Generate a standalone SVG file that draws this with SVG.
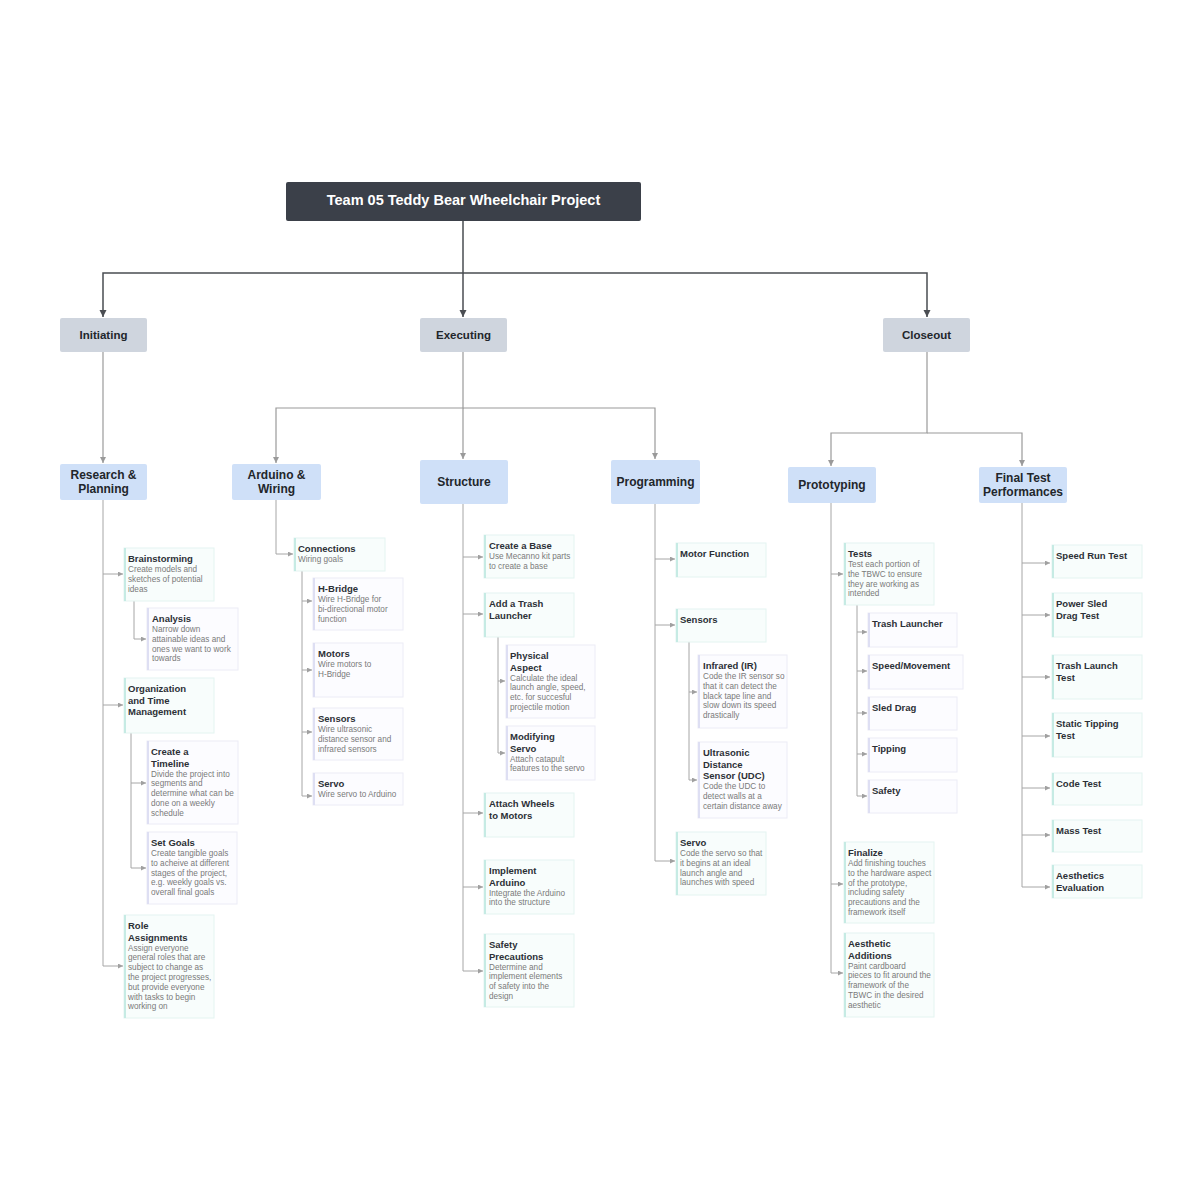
<svg xmlns="http://www.w3.org/2000/svg" width="1200" height="1200" viewBox="0 0 1200 1200">
<style>
text{font-family:"Liberation Sans",Arial,sans-serif}
.rt{font-size:14.5px;font-weight:bold;fill:#ffffff}
.l1{fill:#cfd5de;rx:2}
.l2{fill:#cfe0f8;rx:2}
.lt{font-size:11.5px;font-weight:bold;fill:#22262b}
.l2t{font-size:12px;font-weight:bold;fill:#22262b}
.cbT{fill:#f8fdfc;stroke:#e4f4f1;stroke-width:1}
.csT{fill:#c6ebe4}
.cbL{fill:#fcfcff;stroke:#ececf6;stroke-width:1}
.csL{fill:#dedff3}
.ct{font-size:9.5px;font-weight:bold;fill:#2c3036}
.cd{font-size:8.2px;fill:#7a7a7a}
.c0{fill:none;stroke:#4a4d52;stroke-width:1.5}
.c1{fill:none;stroke:#9a9a9a;stroke-width:1.2}
.c2{fill:none;stroke:#a6a6a6;stroke-width:1}
</style>
<defs>
<marker id="aBig" markerUnits="userSpaceOnUse" markerWidth="8" markerHeight="8" refX="7" refY="3.5" orient="auto"><path d="M0,0 L7,3.5 L0,7 z" fill="#4a4d52"/></marker>
<marker id="aMid" markerUnits="userSpaceOnUse" markerWidth="7" markerHeight="7" refX="6" refY="3" orient="auto"><path d="M0,0 L6,3 L0,6 z" fill="#9a9a9a"/></marker>
<marker id="aSm" markerUnits="userSpaceOnUse" markerWidth="6" markerHeight="6" refX="5" refY="2.5" orient="auto"><path d="M0,0 L5,2.5 L0,5 z" fill="#a0a0a0"/></marker>
</defs>
<rect width="1200" height="1200" fill="#ffffff"/>

<g id="connectors">
<path class="c0" d="M463,221 V273 H103 V317" marker-end="url(#aBig)"/>
<path class="c0" d="M463,273 V317" marker-end="url(#aBig)"/>
<path class="c0" d="M463,273 H927 V317" marker-end="url(#aBig)"/>

<path class="c1" d="M103,352 V463" marker-end="url(#aMid)"/>
<path class="c1" d="M463,352 V408 H276 V463" marker-end="url(#aMid)"/>
<path class="c1" d="M463,408 V459" marker-end="url(#aMid)"/>
<path class="c1" d="M463,408 H655 V459" marker-end="url(#aMid)"/>
<path class="c1" d="M927,352 V433 H831 V466" marker-end="url(#aMid)"/>
<path class="c1" d="M927,433 H1022 V466" marker-end="url(#aMid)"/>

<path class="c2" d="M103,500 V966"/>
<path class="c2" d="M103,574 H123" marker-end="url(#aSm)"/>
<path class="c2" d="M103,705 H123" marker-end="url(#aSm)"/>
<path class="c2" d="M103,966 H123" marker-end="url(#aSm)"/>
<path class="c2" d="M134,601 V639 H146" marker-end="url(#aSm)"/>
<path class="c2" d="M131,733 V868 H146" marker-end="url(#aSm)"/>
<path class="c2" d="M131,783 H146" marker-end="url(#aSm)"/>

<path class="c2" d="M276,500 V554 H293" marker-end="url(#aSm)"/>
<path class="c2" d="M302,571 V796 H312" marker-end="url(#aSm)"/>
<path class="c2" d="M302,601 H312" marker-end="url(#aSm)"/>
<path class="c2" d="M302,670 H312" marker-end="url(#aSm)"/>
<path class="c2" d="M302,732 H312" marker-end="url(#aSm)"/>

<path class="c2" d="M463,504 V971"/>
<path class="c2" d="M463,557 H483" marker-end="url(#aSm)"/>
<path class="c2" d="M463,614 H483" marker-end="url(#aSm)"/>
<path class="c2" d="M463,813 H483" marker-end="url(#aSm)"/>
<path class="c2" d="M463,887 H483" marker-end="url(#aSm)"/>
<path class="c2" d="M463,971 H483" marker-end="url(#aSm)"/>
<path class="c2" d="M498,637 V753 H505" marker-end="url(#aSm)"/>
<path class="c2" d="M498,681 H505" marker-end="url(#aSm)"/>

<path class="c2" d="M655,504 V861"/>
<path class="c2" d="M655,559 H675" marker-end="url(#aSm)"/>
<path class="c2" d="M655,625 H675" marker-end="url(#aSm)"/>
<path class="c2" d="M655,861 H675" marker-end="url(#aSm)"/>
<path class="c2" d="M689,642 V780 H697" marker-end="url(#aSm)"/>
<path class="c2" d="M689,692 H697" marker-end="url(#aSm)"/>

<path class="c2" d="M831,503 V973"/>
<path class="c2" d="M831,574 H843" marker-end="url(#aSm)"/>
<path class="c2" d="M831,884 H843" marker-end="url(#aSm)"/>
<path class="c2" d="M831,973 H843" marker-end="url(#aSm)"/>
<path class="c2" d="M857,605 V796 H867" marker-end="url(#aSm)"/>
<path class="c2" d="M857,632 H867" marker-end="url(#aSm)"/>
<path class="c2" d="M857,671 H867" marker-end="url(#aSm)"/>
<path class="c2" d="M857,713 H867" marker-end="url(#aSm)"/>
<path class="c2" d="M857,754 H867" marker-end="url(#aSm)"/>

<path class="c2" d="M1022,503 V887"/>
<path class="c2" d="M1022,563 H1050" marker-end="url(#aSm)"/>
<path class="c2" d="M1022,615 H1050" marker-end="url(#aSm)"/>
<path class="c2" d="M1022,677 H1050" marker-end="url(#aSm)"/>
<path class="c2" d="M1022,736 H1050" marker-end="url(#aSm)"/>
<path class="c2" d="M1022,788 H1050" marker-end="url(#aSm)"/>
<path class="c2" d="M1022,835 H1050" marker-end="url(#aSm)"/>
<path class="c2" d="M1022,887 H1050" marker-end="url(#aSm)"/>
</g>

<g id="root">
<rect x="286" y="182" width="355" height="39" rx="2" fill="#3b4049"/>
<text class="rt" x="463.5" y="205" text-anchor="middle">Team 05 Teddy Bear Wheelchair Project</text>
</g>

<g id="n-initiating"><rect class="l1" x="60" y="318" width="87" height="34"/><text class="lt" x="103.5" y="339" text-anchor="middle">Initiating</text></g>
<g id="n-executing"><rect class="l1" x="420" y="318" width="87" height="34"/><text class="lt" x="463.5" y="339" text-anchor="middle">Executing</text></g>
<g id="n-closeout"><rect class="l1" x="883" y="318" width="87" height="34"/><text class="lt" x="926.5" y="339" text-anchor="middle">Closeout</text></g>

<g id="n-research"><rect class="l2" x="60" y="464" width="87" height="36"/><text class="l2t" text-anchor="middle"><tspan x="103.5" y="479">Research &amp;</tspan><tspan x="103.5" y="493">Planning</tspan></text></g>
<g id="n-arduino"><rect class="l2" x="232" y="464" width="89" height="36"/><text class="l2t" text-anchor="middle"><tspan x="276.5" y="479">Arduino &amp;</tspan><tspan x="276.5" y="493">Wiring</tspan></text></g>
<g id="n-structure"><rect class="l2" x="420" y="460" width="88" height="44"/><text class="l2t" x="464" y="486" text-anchor="middle">Structure</text></g>
<g id="n-programming"><rect class="l2" x="611" y="460" width="89" height="44"/><text class="l2t" x="655.5" y="486" text-anchor="middle">Programming</text></g>
<g id="n-prototyping"><rect class="l2" x="788" y="467" width="88" height="36"/><text class="l2t" x="832" y="489" text-anchor="middle">Prototyping</text></g>
<g id="n-finaltest"><rect class="l2" x="979" y="467" width="88" height="36"/><text class="l2t" text-anchor="middle"><tspan x="1023" y="482">Final Test</tspan><tspan x="1023" y="496">Performances</tspan></text></g>

<!-- Research & Planning -->
<g id="n-brainstorming"><rect class="cbT" x="124" y="548" width="90" height="53"/><rect class="csT" x="124" y="548" width="2" height="53"/>
<text class="ct"><tspan x="128" y="562">Brainstorming</tspan></text>
<text class="cd"><tspan x="128" y="572">Create models and</tspan><tspan x="128" y="581.8">sketches of potential</tspan><tspan x="128" y="591.6">ideas</tspan></text></g>
<g id="n-analysis"><rect class="cbL" x="147" y="608" width="91" height="62"/><rect class="csL" x="147" y="608" width="2" height="62"/>
<text class="ct"><tspan x="152" y="622">Analysis</tspan></text>
<text class="cd"><tspan x="152" y="632">Narrow down</tspan><tspan x="152" y="641.8">attainable ideas and</tspan><tspan x="152" y="651.6">ones we want to work</tspan><tspan x="152" y="661.4">towards</tspan></text></g>
<g id="n-org"><rect class="cbT" x="124" y="678" width="90" height="55"/><rect class="csT" x="124" y="678" width="2" height="55"/>
<text class="ct"><tspan x="128" y="692">Organization</tspan><tspan x="128" y="703.5">and Time</tspan><tspan x="128" y="715">Management</tspan></text></g>
<g id="n-timeline"><rect class="cbL" x="147" y="741" width="91" height="83"/><rect class="csL" x="147" y="741" width="2" height="83"/>
<text class="ct"><tspan x="151" y="755">Create a</tspan><tspan x="151" y="766.5">Timeline</tspan></text>
<text class="cd"><tspan x="151" y="776.5">Divide the project into</tspan><tspan x="151" y="786.3">segments and</tspan><tspan x="151" y="796.1">determine what can be</tspan><tspan x="151" y="805.9">done on a weekly</tspan><tspan x="151" y="815.7">schedule</tspan></text></g>
<g id="n-setgoals"><rect class="cbL" x="147" y="832" width="90" height="72"/><rect class="csL" x="147" y="832" width="2" height="72"/>
<text class="ct"><tspan x="151" y="846">Set Goals</tspan></text>
<text class="cd"><tspan x="151" y="856">Create tangible goals</tspan><tspan x="151" y="865.8">to acheive at different</tspan><tspan x="151" y="875.6">stages of the project,</tspan><tspan x="151" y="885.4">e.g. weekly goals vs.</tspan><tspan x="151" y="895.2">overall final goals</tspan></text></g>
<g id="n-roles"><rect class="cbT" x="124" y="915" width="90" height="103"/><rect class="csT" x="124" y="915" width="2" height="103"/>
<text class="ct"><tspan x="128" y="929">Role</tspan><tspan x="128" y="940.5">Assignments</tspan></text>
<text class="cd"><tspan x="128" y="950.5">Assign everyone</tspan><tspan x="128" y="960.3">general roles that are</tspan><tspan x="128" y="970.1">subject to change as</tspan><tspan x="128" y="979.9">the project progresses,</tspan><tspan x="128" y="989.7">but provide everyone</tspan><tspan x="128" y="999.5">with tasks to begin</tspan><tspan x="128" y="1009.3">working on</tspan></text></g>

<!-- Arduino & Wiring -->
<g id="n-connections"><rect class="cbT" x="294" y="538" width="91" height="33"/><rect class="csT" x="294" y="538" width="2" height="33"/>
<text class="ct"><tspan x="298" y="552">Connections</tspan></text>
<text class="cd"><tspan x="298" y="562">Wiring goals</tspan></text></g>
<g id="n-hbridge"><rect class="cbL" x="313" y="578" width="90" height="52"/><rect class="csL" x="313" y="578" width="2" height="52"/>
<text class="ct"><tspan x="318" y="592">H-Bridge</tspan></text>
<text class="cd"><tspan x="318" y="602">Wire H-Bridge for</tspan><tspan x="318" y="611.8">bi-directional motor</tspan><tspan x="318" y="621.6">function</tspan></text></g>
<g id="n-motors"><rect class="cbL" x="313" y="643" width="90" height="54"/><rect class="csL" x="313" y="643" width="2" height="54"/>
<text class="ct"><tspan x="318" y="657">Motors</tspan></text>
<text class="cd"><tspan x="318" y="667">Wire motors to</tspan><tspan x="318" y="676.8">H-Bridge</tspan></text></g>
<g id="n-wsensors"><rect class="cbL" x="313" y="708" width="90" height="52"/><rect class="csL" x="313" y="708" width="2" height="52"/>
<text class="ct"><tspan x="318" y="722">Sensors</tspan></text>
<text class="cd"><tspan x="318" y="732">Wire ultrasonic</tspan><tspan x="318" y="741.8">distance sensor and</tspan><tspan x="318" y="751.6">infrared sensors</tspan></text></g>
<g id="n-wservo"><rect class="cbL" x="313" y="773" width="90" height="32"/><rect class="csL" x="313" y="773" width="2" height="32"/>
<text class="ct"><tspan x="318" y="787">Servo</tspan></text>
<text class="cd"><tspan x="318" y="797">Wire servo to Arduino</tspan></text></g>

<!-- Structure -->
<g id="n-base"><rect class="cbT" x="484" y="535" width="90" height="43"/><rect class="csT" x="484" y="535" width="2" height="43"/>
<text class="ct"><tspan x="489" y="549">Create a Base</tspan></text>
<text class="cd"><tspan x="489" y="559">Use Mecanno kit parts</tspan><tspan x="489" y="568.8">to create a base</tspan></text></g>
<g id="n-trash"><rect class="cbT" x="484" y="593" width="90" height="44"/><rect class="csT" x="484" y="593" width="2" height="44"/>
<text class="ct"><tspan x="489" y="607">Add a Trash</tspan><tspan x="489" y="618.5">Launcher</tspan></text></g>
<g id="n-physical"><rect class="cbL" x="506" y="645" width="89" height="73"/><rect class="csL" x="506" y="645" width="2" height="73"/>
<text class="ct"><tspan x="510" y="659">Physical</tspan><tspan x="510" y="670.5">Aspect</tspan></text>
<text class="cd"><tspan x="510" y="680.5">Calculate the ideal</tspan><tspan x="510" y="690.3">launch angle, speed,</tspan><tspan x="510" y="700.1">etc. for succesful</tspan><tspan x="510" y="709.9">projectile motion</tspan></text></g>
<g id="n-modservo"><rect class="cbL" x="506" y="726" width="89" height="54"/><rect class="csL" x="506" y="726" width="2" height="54"/>
<text class="ct"><tspan x="510" y="740">Modifying</tspan><tspan x="510" y="751.5">Servo</tspan></text>
<text class="cd"><tspan x="510" y="761.5">Attach catapult</tspan><tspan x="510" y="771.3">features to the servo</tspan></text></g>
<g id="n-wheels"><rect class="cbT" x="484" y="793" width="90" height="44"/><rect class="csT" x="484" y="793" width="2" height="44"/>
<text class="ct"><tspan x="489" y="807">Attach Wheels</tspan><tspan x="489" y="818.5">to Motors</tspan></text></g>
<g id="n-implement"><rect class="cbT" x="484" y="860" width="90" height="54"/><rect class="csT" x="484" y="860" width="2" height="54"/>
<text class="ct"><tspan x="489" y="874">Implement</tspan><tspan x="489" y="885.5">Arduino</tspan></text>
<text class="cd"><tspan x="489" y="895.5">Integrate the Arduino</tspan><tspan x="489" y="905.3">into the structure</tspan></text></g>
<g id="n-safetyprec"><rect class="cbT" x="484" y="934" width="90" height="73"/><rect class="csT" x="484" y="934" width="2" height="73"/>
<text class="ct"><tspan x="489" y="948">Safety</tspan><tspan x="489" y="959.5">Precautions</tspan></text>
<text class="cd"><tspan x="489" y="969.5">Determine and</tspan><tspan x="489" y="979.3">implement elements</tspan><tspan x="489" y="989.1">of safety into the</tspan><tspan x="489" y="998.9">design</tspan></text></g>

<!-- Programming -->
<g id="n-motorfn"><rect class="cbT" x="676" y="543" width="90" height="34"/><rect class="csT" x="676" y="543" width="2" height="34"/>
<text class="ct"><tspan x="680" y="557">Motor Function</tspan></text></g>
<g id="n-psensors"><rect class="cbT" x="676" y="609" width="90" height="33"/><rect class="csT" x="676" y="609" width="2" height="33"/>
<text class="ct"><tspan x="680" y="623">Sensors</tspan></text></g>
<g id="n-infrared"><rect class="cbL" x="698" y="655" width="89" height="73"/><rect class="csL" x="698" y="655" width="2" height="73"/>
<text class="ct"><tspan x="703" y="669">Infrared (IR)</tspan></text>
<text class="cd"><tspan x="703" y="679">Code the IR sensor so</tspan><tspan x="703" y="688.8">that it can detect the</tspan><tspan x="703" y="698.6">black tape line and</tspan><tspan x="703" y="708.4">slow down its speed</tspan><tspan x="703" y="718.2">drastically</tspan></text></g>
<g id="n-ultrasonic"><rect class="cbL" x="698" y="742" width="89" height="76"/><rect class="csL" x="698" y="742" width="2" height="76"/>
<text class="ct"><tspan x="703" y="756">Ultrasonic</tspan><tspan x="703" y="767.5">Distance</tspan><tspan x="703" y="779">Sensor (UDC)</tspan></text>
<text class="cd"><tspan x="703" y="789">Code the UDC to</tspan><tspan x="703" y="798.8">detect walls at a</tspan><tspan x="703" y="808.6">certain distance away</tspan></text></g>
<g id="n-pservo"><rect class="cbT" x="676" y="832" width="90" height="63"/><rect class="csT" x="676" y="832" width="2" height="63"/>
<text class="ct"><tspan x="680" y="846">Servo</tspan></text>
<text class="cd"><tspan x="680" y="856">Code the servo so that</tspan><tspan x="680" y="865.8">it begins at an ideal</tspan><tspan x="680" y="875.6">launch angle and</tspan><tspan x="680" y="885.4">launches with speed</tspan></text></g>

<!-- Prototyping -->
<g id="n-tests"><rect class="cbT" x="844" y="543" width="90" height="62"/><rect class="csT" x="844" y="543" width="2" height="62"/>
<text class="ct"><tspan x="848" y="557">Tests</tspan></text>
<text class="cd"><tspan x="848" y="567">Test each portion of</tspan><tspan x="848" y="576.8">the TBWC to ensure</tspan><tspan x="848" y="586.6">they are working as</tspan><tspan x="848" y="596.4">intended</tspan></text></g>
<g id="n-ttrash"><rect class="cbL" x="868" y="613" width="89" height="34"/><rect class="csL" x="868" y="613" width="2" height="34"/>
<text class="ct"><tspan x="872" y="627">Trash Launcher</tspan></text></g>
<g id="n-tspeed"><rect class="cbL" x="868" y="655" width="95" height="34"/><rect class="csL" x="868" y="655" width="2" height="34"/>
<text class="ct"><tspan x="872" y="669">Speed/Movement</tspan></text></g>
<g id="n-tsled"><rect class="cbL" x="868" y="697" width="89" height="33"/><rect class="csL" x="868" y="697" width="2" height="33"/>
<text class="ct"><tspan x="872" y="711">Sled Drag</tspan></text></g>
<g id="n-ttipping"><rect class="cbL" x="868" y="738" width="89" height="34"/><rect class="csL" x="868" y="738" width="2" height="34"/>
<text class="ct"><tspan x="872" y="752">Tipping</tspan></text></g>
<g id="n-tsafety"><rect class="cbL" x="868" y="780" width="89" height="33"/><rect class="csL" x="868" y="780" width="2" height="33"/>
<text class="ct"><tspan x="872" y="794">Safety</tspan></text></g>
<g id="n-finalize"><rect class="cbT" x="844" y="842" width="90" height="81"/><rect class="csT" x="844" y="842" width="2" height="81"/>
<text class="ct"><tspan x="848" y="856">Finalize</tspan></text>
<text class="cd"><tspan x="848" y="866">Add finishing touches</tspan><tspan x="848" y="875.8">to the hardware aspect</tspan><tspan x="848" y="885.6">of the prototype,</tspan><tspan x="848" y="895.4">including safety</tspan><tspan x="848" y="905.2">precautions and the</tspan><tspan x="848" y="915">framework itself</tspan></text></g>
<g id="n-aesthetic"><rect class="cbT" x="844" y="933" width="90" height="84"/><rect class="csT" x="844" y="933" width="2" height="84"/>
<text class="ct"><tspan x="848" y="947">Aesthetic</tspan><tspan x="848" y="958.5">Additions</tspan></text>
<text class="cd"><tspan x="848" y="968.5">Paint cardboard</tspan><tspan x="848" y="978.3">pieces to fit around the</tspan><tspan x="848" y="988.1">framework of the</tspan><tspan x="848" y="997.9">TBWC in the desired</tspan><tspan x="848" y="1007.7">aesthetic</tspan></text></g>

<!-- Final Test Performances -->
<g id="n-speedrun"><rect class="cbT" x="1052" y="545" width="90" height="33"/><rect class="csT" x="1052" y="545" width="2" height="33"/>
<text class="ct"><tspan x="1056" y="559">Speed Run Test</tspan></text></g>
<g id="n-powersled"><rect class="cbT" x="1052" y="593" width="90" height="44"/><rect class="csT" x="1052" y="593" width="2" height="44"/>
<text class="ct"><tspan x="1056" y="607">Power Sled</tspan><tspan x="1056" y="618.5">Drag Test</tspan></text></g>
<g id="n-trashlaunch"><rect class="cbT" x="1052" y="655" width="90" height="44"/><rect class="csT" x="1052" y="655" width="2" height="44"/>
<text class="ct"><tspan x="1056" y="669">Trash Launch</tspan><tspan x="1056" y="680.5">Test</tspan></text></g>
<g id="n-statictip"><rect class="cbT" x="1052" y="713" width="90" height="44"/><rect class="csT" x="1052" y="713" width="2" height="44"/>
<text class="ct"><tspan x="1056" y="727">Static Tipping</tspan><tspan x="1056" y="738.5">Test</tspan></text></g>
<g id="n-codetest"><rect class="cbT" x="1052" y="773" width="90" height="32"/><rect class="csT" x="1052" y="773" width="2" height="32"/>
<text class="ct"><tspan x="1056" y="787">Code Test</tspan></text></g>
<g id="n-masstest"><rect class="cbT" x="1052" y="820" width="90" height="32"/><rect class="csT" x="1052" y="820" width="2" height="32"/>
<text class="ct"><tspan x="1056" y="834">Mass Test</tspan></text></g>
<g id="n-aesthetics"><rect class="cbT" x="1052" y="865" width="90" height="33"/><rect class="csT" x="1052" y="865" width="2" height="33"/>
<text class="ct"><tspan x="1056" y="879">Aesthetics</tspan><tspan x="1056" y="890.5">Evaluation</tspan></text></g>
</svg>
